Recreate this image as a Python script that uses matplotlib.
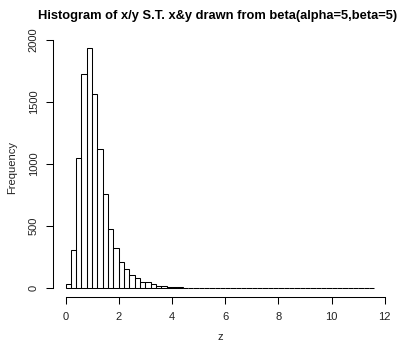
import numpy as np
import matplotlib
matplotlib.use("Agg")
import matplotlib.pyplot as plt

# histogram data (bins of width 0.2 from 0 to 11.6)
bin_width = 0.2
bin_lefts = np.round(np.arange(0, 11.6, bin_width), 1)
counts = [27, 304, 1048, 1723, 1939, 1562, 1124, 756, 473, 318,
          205, 148, 102, 76, 48, 45, 28, 14, 14, 6,
          5, 3, 2, 2, 1, 2, 1, 1, 1, 0,
          1, 1, 1, 1, 1, 0, 1, 0, 0, 1,
          0, 0, 0, 0, 0, 1, 0, 0, 0, 0,
          0, 0, 0, 0, 0, 0, 0, 1]
x_ticks = [0, 2, 4, 6, 8, 10, 12]
y_ticks = [0, 500, 1000, 1500, 2000]

plt.rcParams['font.family'] = ['Liberation Sans', 'DejaVu Sans']

fig = plt.figure(figsize=(4.06, 3.43), dpi=100)
ax = fig.add_axes([0.131, 0.133, 0.821, 0.756])

ax.bar(bin_lefts, counts, width=bin_width, align='edge', fill=False,
       edgecolor='black', linewidth=0.75)

ax.set_xlim(-0.464, 12.064)
ax.set_ylim(-77.6, 2016.6)

for s in ['top', 'right']:
    ax.spines[s].set_visible(False)
ax.spines['bottom'].set_bounds(0, 12)
ax.spines['left'].set_bounds(0, 2000)
for s in ['bottom', 'left']:
    ax.spines[s].set_linewidth(0.75)

ax.set_xticks(x_ticks)
ax.set_yticks(y_ticks)
ax.set_yticklabels([str(v) for v in y_ticks], rotation=90, va='center')
ax.tick_params(axis='both', length=5, width=0.75, labelsize=8, pad=5.5,
               labelcolor='#222222')

ax.set_xlabel('z', fontsize=8, labelpad=7, color='#222222')
ax.set_ylabel('Frequency', fontsize=8, labelpad=8, color='#222222')
fig.suptitle('Histogram of x/y S.T. x&y drawn from beta(alpha=5,beta=5)',
             fontsize=9.3, fontweight='bold', x=0.535, y=0.972)

fig.savefig('out.png', dpi=100)
